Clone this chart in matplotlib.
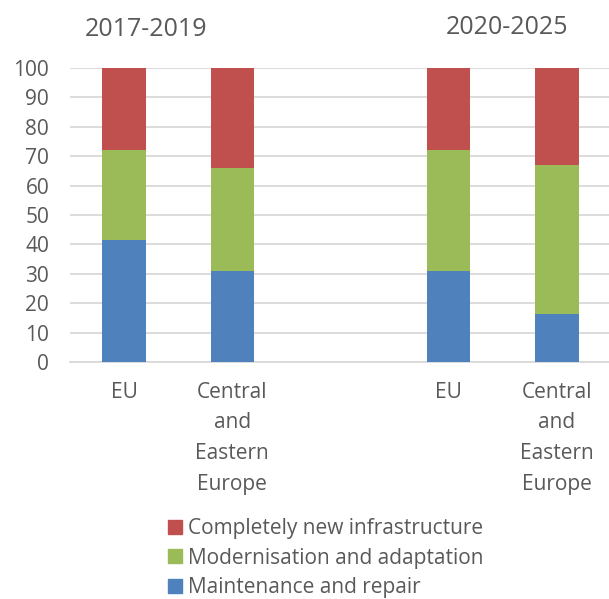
import matplotlib
matplotlib.use('Agg')
import matplotlib.pyplot as plt
from matplotlib.patches import Patch

# categories (empty slot = gap between periods)
categories = ["EU", "Central\nand\nEastern\nEurope", "", "EU", "Central\nand\nEastern\nEurope"]
maintenance = [41.5, 31, 0, 31, 16.5]
modernisation = [30.5, 35, 0, 41, 50.5]
new_infra = [28, 34, 0, 28, 33]
periods = ["2017-2019", "2020-2025"]
yticks = [0, 10, 20, 30, 40, 50, 60, 70, 80, 90, 100]

BLUE, GREEN, RED = '#4F81BD', '#9BBB59', '#C0504D'
TXT = '#595959'
GRID = '#D9D9D9'

plt.rcParams['font.family'] = ['Open Sans', 'DejaVu Sans']

fig = plt.figure(figsize=(6.09, 5.99), dpi=100)
ax = fig.add_axes([70/609, 236.7/599, 1 - 70/609, (531.3 - 236.7)/599])

x = list(range(len(categories)))
keep = [i for i, c in enumerate(categories) if c]
xs = [x[i] for i in keep]
m = [maintenance[i] for i in keep]
g = [modernisation[i] for i in keep]
r = [new_infra[i] for i in keep]
bot2 = [a + b for a, b in zip(m, g)]

w = 0.4
ax.bar(xs, m, w, color=BLUE, zorder=3)
ax.bar(xs, g, w, bottom=m, color=GREEN, zorder=3)
ax.bar(xs, r, w, bottom=bot2, color=RED, zorder=3)

ax.set_xlim(-0.5, 4.48)
ax.set_ylim(0, 100)
ax.set_yticks(yticks)
ax.yaxis.grid(True, color=GRID, linewidth=1.3, zorder=0)
ax.set_axisbelow(True)
ax.set_xticks(x)
ax.set_xticklabels(categories, linespacing=1.6)
ax.tick_params(axis='both', length=0, labelsize=15, colors=TXT)
ax.tick_params(axis='y', pad=15)
ax.tick_params(axis='x', pad=14)
for s in ['left', 'right', 'top']:
    ax.spines[s].set_visible(False)
ax.spines['bottom'].set_color(GRID)
ax.spines['bottom'].set_linewidth(1.3)

fig.text(146/609, 1 - 30/599, periods[0], ha='center', va='center', fontsize=18, color=TXT)
fig.text(507/609, 1 - 27/599, periods[1], ha='center', va='center', fontsize=18, color=TXT)

handles = [Patch(color=RED), Patch(color=GREEN), Patch(color=BLUE)]
labels = ["Completely new infrastructure", "Modernisation and adaptation", "Maintenance and repair"]
leg = fig.legend(handles, labels, loc='upper center', bbox_to_anchor=(0.535, 1 - 508/599),
                 frameon=False, fontsize=15, handlelength=0.65, handleheight=0.65,
                 handletextpad=0.3, labelspacing=0.4, borderpad=0)
for t in leg.get_texts():
    t.set_color(TXT)

fig.savefig('out.png', dpi=100)
